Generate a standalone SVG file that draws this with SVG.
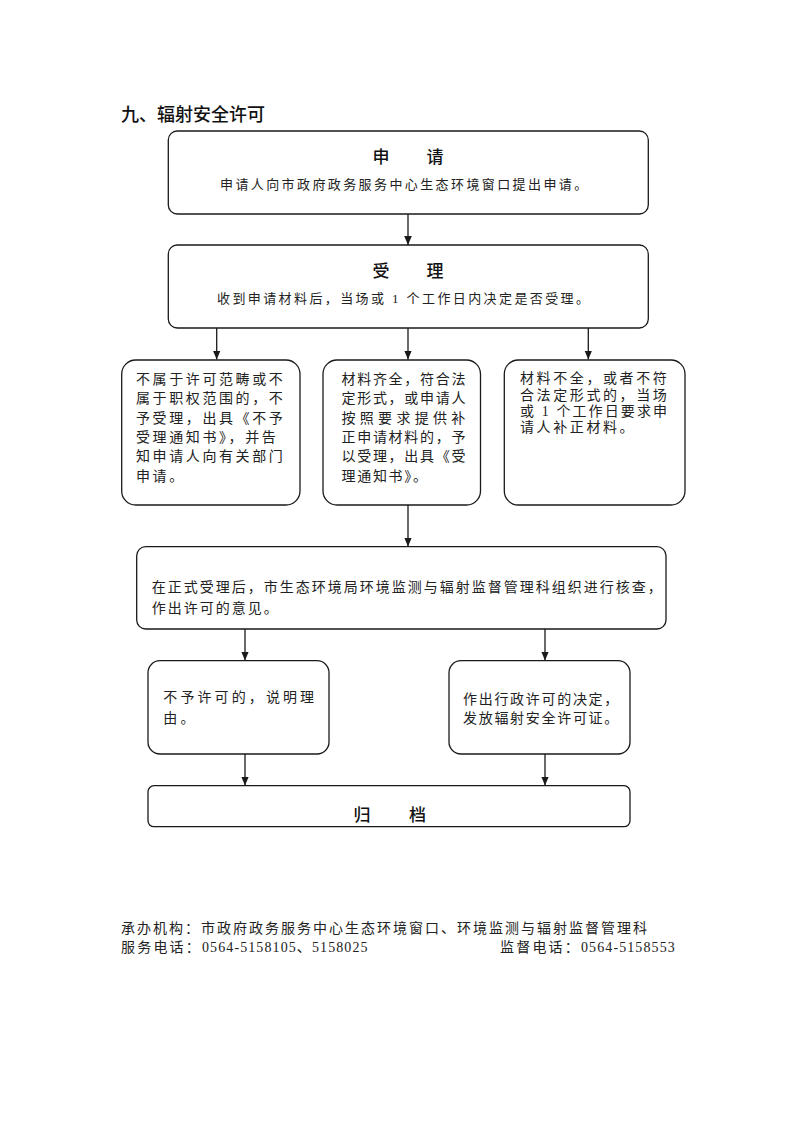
<svg xmlns="http://www.w3.org/2000/svg" width="793" height="1122" viewBox="0 0 793 1122">
<style>
.bg{fill:#ffffff}
.box{fill:#ffffff;stroke:#1a1a1a;stroke-width:1.3}
.conn{stroke:#1a1a1a;stroke-width:1.3;fill:none}
.title{font-family:"Noto Sans CJK SC",sans-serif;font-size:18px;font-weight:500;fill:#111}
.head{font-family:"Noto Sans CJK SC",sans-serif;font-size:17px;font-weight:500;fill:#111;letter-spacing:1px}
.t13{font-family:"Liberation Serif","Noto Sans CJK SC",serif;font-size:13px;fill:#222;letter-spacing:2.4px}
.t14{font-family:"Liberation Serif","Noto Sans CJK SC",serif;font-size:14px;fill:#222}
.foot{font-family:"Liberation Serif","Noto Sans CJK SC",serif;font-size:14px;fill:#222}
</style>
<defs>
<marker id="arr" markerUnits="userSpaceOnUse" markerWidth="10" markerHeight="10" viewBox="0 0 10 10" refX="9" refY="5" orient="auto">
<path d="M0,1.2 L9,5 L0,8.8 Z" fill="#1a1a1a"/>
</marker>
</defs>
<rect class="bg" x="0" y="0" width="793" height="1122"/>

<text class="title" x="121" y="121">九、辐射安全许可</text>

<g id="connectors">
<line class="conn" x1="408" y1="214" x2="408" y2="245" marker-end="url(#arr)"/>
<line class="conn" x1="216.7" y1="328" x2="216.7" y2="359.5" marker-end="url(#arr)"/>
<line class="conn" x1="408" y1="328" x2="408" y2="359.5" marker-end="url(#arr)"/>
<line class="conn" x1="588.3" y1="328" x2="588.3" y2="359.5" marker-end="url(#arr)"/>
<line class="conn" x1="408" y1="505" x2="408" y2="546.5" marker-end="url(#arr)"/>
<line class="conn" x1="245" y1="629" x2="245" y2="660.5" marker-end="url(#arr)"/>
<line class="conn" x1="545" y1="629" x2="545" y2="660.5" marker-end="url(#arr)"/>
<line class="conn" x1="245" y1="754" x2="245" y2="785.5" marker-end="url(#arr)"/>
<line class="conn" x1="545" y1="754" x2="545" y2="785.5" marker-end="url(#arr)"/>
</g>

<g id="apply">
<rect class="box" x="168.3" y="131" width="480" height="83" rx="9"/>
<text class="head" x="372.5" y="163">申　　请</text>
<text class="t13" x="220" y="188.5">申请人向市政府政务服务中心生态环境窗口提出申请。</text>
</g>

<g id="accept">
<rect class="box" x="168.3" y="245" width="480" height="83" rx="9"/>
<text class="head" x="372.5" y="277">受　　理</text>
<text class="t13" x="217" y="302.5">收到申请材料后，当场或 1 个工作日内决定是否受理。</text>
</g>

<g id="reject">
<rect class="box" x="121.7" y="360" width="178.3" height="145" rx="14"/>
<text class="t14" x="136" style="letter-spacing:2.6px">
<tspan x="136" y="384">不属于许可范畴或不</tspan>
<tspan x="136" y="403.3">属于职权范围的，不</tspan>
<tspan x="136" y="422.6">予受理，出具《不予</tspan>
<tspan x="136" y="442">受理通知书》，并告</tspan>
<tspan x="136" y="461.3">知申请人向有关部门</tspan>
<tspan x="136" y="480.6">申请。</tspan>
</text>
</g>

<g id="accepted">
<rect class="box" x="323" y="360" width="157.5" height="145" rx="14"/>
<text class="t14" style="letter-spacing:1.7px">
<tspan x="341.5" y="384">材料齐全，符合法</tspan>
<tspan x="341.5" y="403.3">定形式，或申请人</tspan>
<tspan x="341.5" y="422.6" style="letter-spacing:4.3px">按照要求提供补</tspan>
<tspan x="341.5" y="442">正申请材料的，予</tspan>
<tspan x="341.5" y="461.3">以受理，出具《受</tspan>
<tspan x="341.5" y="480.6">理通知书》。</tspan>
</text>
</g>

<g id="incomplete">
<rect class="box" x="504.3" y="360" width="180.7" height="145" rx="14"/>
<text class="t14" style="letter-spacing:2.6px">
<tspan x="520" y="383.3">材料不全，或者不符</tspan>
<tspan x="520" y="399.6">合法定形式的，当场</tspan>
<tspan x="520" y="415.9" style="letter-spacing:2.1px">或 1 个工作日要求申</tspan>
<tspan x="520" y="432.2">请人补正材料。</tspan>
</text>
</g>

<g id="review">
<rect class="box" x="136.7" y="546.7" width="529.3" height="82.3" rx="9"/>
<text class="t14" style="letter-spacing:2px">
<tspan x="151.7" y="592">在正式受理后，市生态环境局环境监测与辐射监督管理科组织进行核查，</tspan>
<tspan x="151.7" y="613.3">作出许可的意见。</tspan>
</text>
</g>

<g id="deny">
<rect class="box" x="148" y="660.7" width="181" height="93.3" rx="12"/>
<text class="t14" style="letter-spacing:3.1px">
<tspan x="163.3" y="702">不予许可的，说明理</tspan>
<tspan x="163.3" y="723.3">由。</tspan>
</text>
</g>

<g id="grant">
<rect class="box" x="449" y="660.7" width="181" height="93.3" rx="12"/>
<text class="t14" style="letter-spacing:1.7px">
<tspan x="463" y="704.3">作出行政许可的决定，</tspan>
<tspan x="463" y="723.3">发放辐射安全许可证。</tspan>
</text>
</g>

<g id="archive">
<rect class="box" x="148" y="785.7" width="482" height="41" rx="6"/>
<text class="head" x="353.5" y="820.5" style="letter-spacing:1.5px">归　　档</text>
</g>

<g id="footer">
<text class="foot" x="121" y="933" style="letter-spacing:2px">承办机构：市政府政务服务中心生态环境窗口、环境监测与辐射监督管理科</text>
<text class="foot" y="952"><tspan x="121" style="letter-spacing:2.2px">服务电话：</tspan><tspan x="202" style="letter-spacing:1.1px">0564-5158105、5158025</tspan></text>
<text class="foot" y="952"><tspan x="500" style="letter-spacing:2.2px">监督电话：</tspan><tspan x="581" style="letter-spacing:1.1px">0564-5158553</tspan></text>
</g>
</svg>
